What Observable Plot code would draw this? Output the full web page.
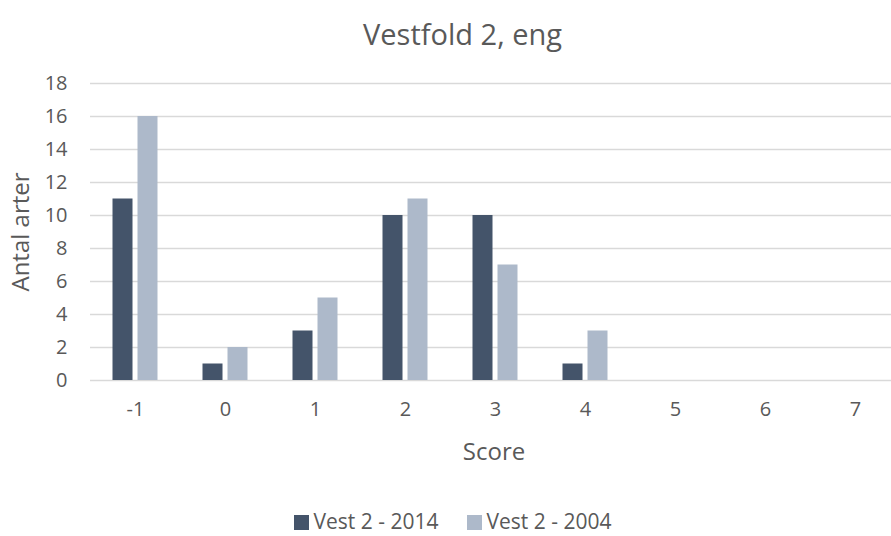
<!DOCTYPE html>
<html>
<head>
<meta charset="utf-8">
<script src="https://cdn.jsdelivr.net/npm/d3@7"></script>
<script src="https://cdn.jsdelivr.net/npm/@observablehq/plot@0.6"></script>
<style>
  body { margin: 0; background: #fff; font-family: "Open Sans", sans-serif; color: #595959; }
  #wrap { width: 891px; height: 536px; position: relative; }
  #title { position: absolute; top: 0; left: 0; width: 891px; height: 65px; line-height: 68px; text-align: center; font-size: 29px; color: #595959; padding-left: 34px; box-sizing: border-box; }
  #chart { position: absolute; top: 65px; left: 0; }
  #legend { position: absolute; top: 506px; left: 0; width: 891px; text-align: center; font-size: 21px; line-height: 30px; color: #595959; padding-left: 14px; box-sizing: border-box; }
  #legend span.sw { display: inline-block; width: 15px; height: 15px; margin-right: 5px; vertical-align: -1px; }
  #legend span.item { margin: 0 14px; }
</style>
</head>
<body>
<div id="wrap">
  <div id="title">Vestfold 2, eng</div>
  <div id="chart"></div>
  <div id="legend"></div>
</div>
<script>
const scores = ["-1", "0", "1", "2", "3", "4", "5", "6", "7"];
const seriesNames = ["Vest 2 - 2014", "Vest 2 - 2004"];
const values2014 = [11, 1, 3, 10, 10, 1, 0, 0, 0];
const values2004 = [16, 2, 5, 11, 7, 3, 0, 0, 0];
const colors = ["#44546A", "#ADB9CA"];
const yTicks = [0, 2, 4, 6, 8, 10, 12, 14, 16, 18];
const xTitle = "Score";
const yTitle = "Antal arter";

const rows2014 = scores.map((s, i) => ({score: s, value: values2014[i], series: seriesNames[0]}));
const rows2004 = scores.map((s, i) => ({score: s, value: values2004[i], series: seriesNames[1]}));

const chart = Plot.plot({
  width: 891,
  height: 410,
  marginTop: 18,
  marginBottom: 95,
  marginLeft: 90,
  marginRight: 0,
  style: {fontFamily: "Open Sans, sans-serif", fontSize: "20px", color: "#595959", background: "white"},
  x: {domain: scores, range: [89.5, 899.5], paddingInner: 70/90, paddingOuter: 35/90, label: null},
  y: {domain: [0, 18], label: null},
  color: {domain: seriesNames, range: colors},
  marks: [
    Plot.ruleY(yTicks, {stroke: "#d9d9d9", strokeWidth: 1.3}),
    Plot.barY(rows2014, {x: "score", y: "value", fill: "series", dx: -12.5}),
    Plot.barY(rows2004, {x: "score", y: "value", fill: "series", dx: 12.5}),
    Plot.axisY({ticks: yTicks, tickSize: 0, tickPadding: 23, fontSize: 20, label: null}),
    Plot.axisX({tickSize: 0, tickPadding: 21, fontSize: 20, label: null}),
    Plot.text([yTitle], {frameAnchor: "left", text: d => d, rotate: -90, dx: -69, fontSize: 24, fill: "#595959", lineAnchor: "middle", textAnchor: "middle"}),
    Plot.text([xTitle], {frameAnchor: "bottom", text: d => d, dy: 72, dx: 3, fontSize: 24, fill: "#595959", lineAnchor: "middle", textAnchor: "middle"})
  ]
});
document.getElementById("chart").appendChild(chart);

const legend = document.getElementById("legend");
seriesNames.forEach((name, i) => {
  const item = document.createElement("span");
  item.className = "item";
  const sw = document.createElement("span");
  sw.className = "sw";
  sw.style.background = colors[i];
  item.appendChild(sw);
  item.appendChild(document.createTextNode(name));
  legend.appendChild(item);
});
</script>
</body>
</html>
